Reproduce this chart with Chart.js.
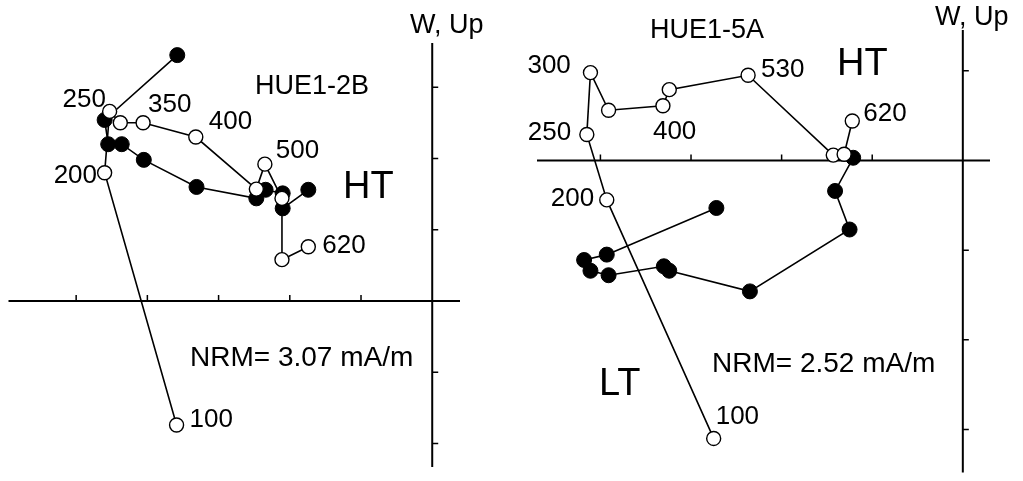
<!DOCTYPE html>
<html>
<head>
<meta charset="utf-8">
<script src="https://cdn.jsdelivr.net/npm/chart.js@4.4.1/dist/chart.umd.min.js"></script>
<style>
  body { margin: 0; background: #fff; }
  #wrap { position: relative; width: 1023px; height: 481px; overflow: hidden; }
  canvas { position: absolute; top: 0; }
</style>
</head>
<body>
<div id="wrap">
  <canvas id="leftCanvas" width="505" height="481" style="left:0"></canvas>
  <canvas id="rightCanvas" width="518" height="481" style="left:505px"></canvas>
</div>
<script>
// ---- data (axis units = one tick step) ----
// HUE1-2B
var leftOpenX   = [-3.59, -4.60, -4.53, -4.38, -4.06, -3.32, -2.47, -2.35, -2.11, -2.11, -1.74];
var leftOpenY   = [-1.74,  1.80,  2.66,  2.50,  2.50,  2.30,  1.57,  1.92,  1.44,  0.58,  0.76];
var leftFilledX = [-3.58, -4.60, -4.55, -4.36, -4.05, -3.31, -2.47, -2.34, -2.10, -2.10, -1.74];
var leftFilledY = [ 3.45,  2.54,  2.20,  2.20,  1.98,  1.60,  1.44,  1.56,  1.51,  1.30,  1.56];
var leftStepLabels = ["100", "200", "250", "", "350", "400", "", "500", "", "", "620"];
var leftXTicks = [-5, -4, -3, -2, -1];
var leftYTicks = [-2, -1, 1, 2, 3];

// HUE1-5A
var rightOpenX   = [-2.75, -3.93, -4.15, -4.11, -3.91, -3.31, -3.24, -2.37, -1.43, -1.31, -1.22];
var rightOpenY   = [-3.10, -0.44,  0.29,  0.98,  0.56,  0.61,  0.79,  0.95,  0.06,  0.07,  0.44];
var rightFilledX = [-2.72, -3.93, -4.18, -4.11, -3.91, -3.30, -3.24, -2.35, -1.25, -1.41, -1.21];
var rightFilledY = [-0.53, -1.05, -1.11, -1.23, -1.28, -1.18, -1.23, -1.46, -0.77, -0.34,  0.03];
var rightStepLabels = ["100", "200", "250", "300", "", "400", "", "530", "", "", "620"];
var rightXTicks = [-4, -3, -2, -1];
var rightYTicks = [-3, -2, -1, 1];

// label placement (pixel offset from the point: text left edge, baseline)
var leftLabelOffsets  = [[13, 2], [-51, 10], [-47, -4], null, [5, -11], [13, -8], null, [11, -6], null, null, [14, 6]];
var rightLabelOffsets = [[2, -14], [-56, 6], [-59, 6], [-63, 0], null, [-10, 33], null, [13, 2], null, null, [11, 0]];

var FONT = "'Liberation Sans', Arial, Helvetica, sans-serif";

function toPoints(xs, ys) {
    var pts = [];
    for (var i = 0; i < xs.length; i++) {
        pts.push({ x: xs[i], y: ys[i] });
    }
    return pts;
}

// axes through the origin, ticks drawn with the chart's own scales
var originAxes = {
    id: "originAxes",
    beforeDatasetsDraw: function (chart, args, opts) {
        var ctx = chart.ctx;
        var area = chart.chartArea;
        var xs = chart.scales.x, ys = chart.scales.y;
        var x0 = xs.getPixelForValue(0), y0 = ys.getPixelForValue(0);
        ctx.save();
        ctx.strokeStyle = "#000";
        ctx.lineWidth = 2;
        ctx.beginPath();
        ctx.moveTo(area.left, y0);
        ctx.lineTo(area.right, y0);
        ctx.moveTo(x0, area.top);
        ctx.lineTo(x0, area.bottom);
        ctx.stroke();
        ctx.lineWidth = 1.5;
        ctx.beginPath();
        opts.xTicks.forEach(function (v) {
            var px = xs.getPixelForValue(v);
            ctx.moveTo(px, y0);
            ctx.lineTo(px, y0 - 6);
        });
        opts.yTicks.forEach(function (v) {
            var py = ys.getPixelForValue(v);
            ctx.moveTo(x0, py);
            ctx.lineTo(x0 + 6, py);
        });
        ctx.stroke();
        ctx.restore();
    },
    afterDatasetsDraw: function (chart, args, opts) {
        var ctx = chart.ctx;
        var meta = chart.getDatasetMeta(0);
        ctx.save();
        ctx.fillStyle = "#000";
        ctx.textAlign = "left";
        ctx.textBaseline = "alphabetic";
        ctx.font = "26px " + FONT;
        opts.stepLabels.forEach(function (txt, i) {
            var off = opts.labelOffsets[i];
            if (!txt || !off) return;
            var el = meta.data[i];
            ctx.fillText(txt, el.x + off[0], el.y + off[1]);
        });
        opts.notes.forEach(function (n) {
            ctx.font = n.size + "px " + FONT;
            ctx.fillText(n.text, n.x, n.y);
        });
        ctx.restore();
    }
};

function makeChart(canvasId, openPts, filledPts, xMin, xMax, yMin, yMax, padding, axisOpts) {
    return new Chart(document.getElementById(canvasId), {
        type: "scatter",
        data: {
            datasets: [{
                label: "vertical",
                data: openPts,
                showLine: true,
                borderColor: "#000",
                borderWidth: 1.6,
                pointRadius: 7,
                pointBackgroundColor: "#fff",
                pointBorderColor: "#000",
                pointBorderWidth: 1.4
            }, {
                label: "horizontal",
                data: filledPts,
                showLine: true,
                borderColor: "#000",
                borderWidth: 1.6,
                pointRadius: 7.5,
                pointBackgroundColor: "#000",
                pointBorderColor: "#000",
                pointBorderWidth: 1
            }]
        },
        options: {
            responsive: false,
            animation: false,
            devicePixelRatio: 1,
            layout: { padding: padding },
            plugins: {
                legend: { display: false },
                tooltip: { enabled: false },
                originAxes: axisOpts
            },
            scales: {
                x: { type: "linear", min: xMin, max: xMax, display: false },
                y: { type: "linear", min: yMin, max: yMax, display: false }
            }
        },
        plugins: [originAxes]
    });
}

makeChart("leftCanvas",
    toPoints(leftOpenX, leftOpenY), toPoints(leftFilledX, leftFilledY),
    -5.95, 0.39, -2.33, 3.62,
    { left: 8, right: 45, top: 43, bottom: 14 },
    {
        xTicks: leftXTicks, yTicks: leftYTicks,
        stepLabels: leftStepLabels, labelOffsets: leftLabelOffsets,
        notes: [
            { text: "W, Up", x: 410, y: 33, size: 27 },
            { text: "HUE1-2B", x: 255, y: 94, size: 27 },
            { text: "HT", x: 343, y: 198, size: 38 },
            { text: "NRM= 3.07 mA/m", x: 190, y: 366, size: 28 }
        ]
    });

makeChart("rightCanvas",
    toPoints(rightOpenX, rightOpenY), toPoints(rightFilledX, rightFilledY),
    -4.70, 0.30, -3.48, 1.455,
    { left: 32, right: 33, top: 30, bottom: 3 },
    {
        xTicks: rightXTicks, yTicks: rightYTicks,
        stepLabels: rightStepLabels, labelOffsets: rightLabelOffsets,
        notes: [
            { text: "W, Up", x: 430, y: 25, size: 27 },
            { text: "HUE1-5A", x: 145, y: 38, size: 27 },
            { text: "HT", x: 332, y: 75, size: 38 },
            { text: "LT", x: 94, y: 395, size: 38 },
            { text: "NRM= 2.52 mA/m", x: 207, y: 372, size: 28 }
        ]
    });
</script>
</body>
</html>
